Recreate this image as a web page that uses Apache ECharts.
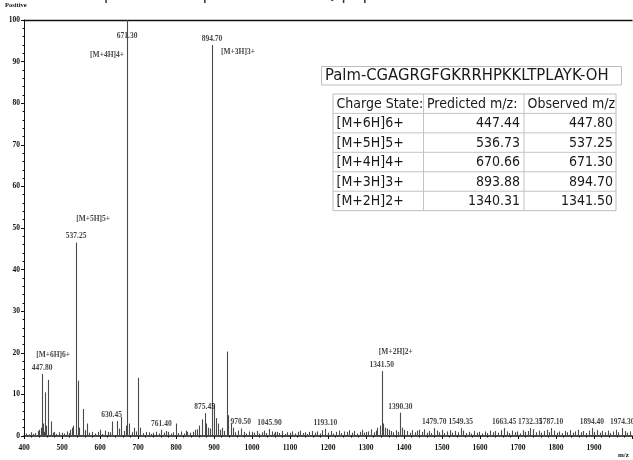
<!DOCTYPE html>
<html>
<head>
<meta charset="utf-8">
<script src="https://cdn.jsdelivr.net/npm/echarts@6/dist/echarts.min.js"></script>
<style>
  html, body { margin: 0; padding: 0; background: #fff; }
  #chart { width: 633px; height: 460px; }
</style>
</head>
<body>
<div id="chart"></div>
<script>
// ---- Spectrum data (m/z, relative abundance %) ----
// Assigned charge-state peaks
const ionMz        = [447.80, 537.25, 671.30, 894.70, 1341.50];
const ionIntensity = [14.9,   46.5,   100,    94,     15.6];
const ionNames     = ['[M+6H]6+', '[M+5H]5+', '[M+4H]4+', '[M+3H]3+', '[M+2H]2+'];

// Other annotated peaks
const annotMz        = [630.45, 761.40, 875.45, 970.50, 1045.90, 1193.10, 1390.30, 1479.70, 1549.35, 1663.45, 1732.35, 1787.10, 1894.40, 1974.30];
const annotIntensity = [3.5,    1.5,    5.5,    1.8,    1.7,     1.7,     5.6,     1.9,     1.9,     1.9,     1.9,     1.9,     1.9,     1.9];

// Unlabelled peaks
const minorPeaks = [
  [440, 1.5], [445, 2.0], [450, 3.0], [455, 10.5], [459, 2.5], [464, 13.5], [470, 3.5], [480, 1.0],
  [500, 0.8], [520, 1.5], [525, 2.0], [530, 2.5], [542, 13.3], [546, 2.0], [555, 6.5], [565, 3.0],
  [580, 1.0], [600, 1.5], [620, 1.0], [645, 3.6], [656, 4.6], [668, 2.5], [676, 3.0], [690, 2.0],
  [700, 14.0], [705, 2.0], [720, 1.0], [740, 0.8], [780, 1.0], [800, 3.0], [830, 1.0], [850, 1.5],
  [860, 2.5], [868, 4.0], [880, 3.0], [885, 2.0], [900, 7.7], [905, 4.3], [910, 3.0], [920, 2.0],
  [933, 20.3], [938, 5.0], [945, 3.0], [950, 2.0], [1000, 1.0], [1060, 1.0], [1100, 0.8], [1150, 1.0],
  [1250, 1.0], [1300, 1.0], [1330, 2.0], [1337, 2.5], [1345, 3.0], [1350, 2.0], [1360, 1.5], [1400, 1.5],
  [1440, 1.5]
];

// Baseline noise
const noisePeaks = [
  [405, 0.6], [412, 0.4], [418, 0.9], [423, 0.5], [430, 0.7], [436, 1.2], [452, 1.0], [476, 0.8],
  [485, 0.5], [492, 0.9], [505, 0.6], [512, 1.1], [518, 0.7], [560, 1.4], [571, 0.8], [588, 0.6],
  [594, 1.0], [606, 0.5], [612, 1.3], [625, 0.9], [650, 1.8], [662, 1.2], [683, 0.9], [695, 1.1],
  [712, 0.7], [728, 0.9], [735, 0.5], [748, 1.0], [755, 0.6], [768, 0.8], [774, 1.2], [786, 0.6],
  [793, 0.9], [806, 0.7], [812, 1.1], [820, 0.6], [826, 1.3], [838, 0.8], [845, 1.0], [856, 1.6],
  [890, 1.8], [915, 1.5], [925, 1.2], [956, 0.9], [962, 1.3], [978, 1.0], [985, 0.6], [992, 1.1],
  [1006, 0.8], [1012, 1.2], [1018, 0.6], [1025, 0.9], [1032, 1.3], [1038, 0.7], [1052, 1.1], [1058, 0.6],
  [1066, 1.0], [1072, 0.7], [1079, 1.2], [1086, 0.5], [1092, 0.9], [1106, 1.1], [1113, 0.6], [1120, 1.0],
  [1126, 1.3], [1133, 0.7], [1140, 0.9], [1146, 0.5], [1158, 1.2], [1165, 0.8], [1171, 1.1], [1178, 0.6],
  [1185, 1.4], [1200, 0.8], [1207, 1.2], [1214, 0.6], [1221, 1.0], [1228, 1.3], [1235, 0.7], [1242, 1.1],
  [1256, 1.4], [1262, 0.8], [1269, 1.2], [1276, 0.6], [1283, 1.0], [1290, 1.5], [1296, 0.8], [1306, 1.1],
  [1313, 1.6], [1320, 0.9], [1326, 1.3], [1355, 1.8], [1366, 1.2], [1372, 0.9], [1378, 1.4], [1384, 1.0],
  [1396, 2.0], [1408, 1.2], [1415, 0.8], [1422, 1.4], [1428, 0.9], [1435, 1.3], [1447, 1.0], [1453, 1.6],
  [1460, 0.8], [1466, 1.2], [1472, 0.7], [1486, 1.3], [1492, 0.9], [1499, 1.5], [1506, 0.7], [1513, 1.1],
  [1520, 1.4], [1527, 0.8], [1534, 1.2], [1541, 0.9], [1556, 1.3], [1563, 0.7], [1570, 1.0], [1577, 0.6],
  [1584, 1.2], [1591, 0.8], [1598, 1.0], [1605, 0.6], [1612, 1.1], [1619, 0.7], [1626, 1.3], [1633, 0.9],
  [1640, 1.2], [1647, 0.8], [1655, 1.4], [1670, 1.1], [1677, 0.7], [1684, 1.3], [1691, 0.9], [1698, 1.1],
  [1705, 0.6], [1712, 1.4], [1719, 1.0], [1726, 1.2], [1740, 1.6], [1747, 0.9], [1754, 1.3], [1761, 0.8],
  [1768, 1.2], [1775, 1.5], [1781, 0.9], [1795, 1.3], [1802, 0.8], [1809, 1.1], [1816, 0.7], [1823, 1.2],
  [1830, 0.9], [1837, 1.4], [1844, 0.8], [1851, 1.1], [1858, 1.5], [1865, 0.9], [1872, 1.2], [1879, 0.7],
  [1886, 1.3], [1901, 1.0], [1908, 1.4], [1915, 0.8], [1922, 1.2], [1929, 0.9], [1936, 1.3], [1943, 0.7],
  [1950, 1.1], [1957, 1.5], [1964, 0.9], [1981, 1.2], [1988, 0.8], [1995, 1.1]
];

// ---- Inset table ----
const peptideName    = 'Palm-CGAGRGFGKRRHPKKLTPLAYK-OH';
const tableHeader    = ['Charge State:', 'Predicted m/z:', 'Observed m/z'];
const chargeStates   = ['[M+6H]6+', '[M+5H]5+', '[M+4H]4+', '[M+3H]3+', '[M+2H]2+'];
const predictedMz    = ['447.44', '536.73', '670.66', '893.88', '1340.31'];
const observedMz     = ['447.80', '537.25', '671.30', '894.70', '1341.50'];

// ---- Styling ----
const tinyFont = 'Liberation Serif';
const ink = '#111';
const stickColor = '#4a4a4a';

// label placement for the assigned peaks (pixel offsets from the peak tip)
const mzLabelOffset  = [[0, 0], [0, 0], [0, 22], [0, 0], [0, 0]];
const ionLabelOffset = [[11, -13], [17, -17], [-20, 41], [26, 13], [14, -13]];

const allSticks = []
  .concat(noisePeaks)
  .concat(minorPeaks)
  .concat(annotMz.map((m, i) => [m, annotIntensity[i]]))
  .concat(ionMz.map((m, i) => [m, ionIntensity[i]]));

function stick(params, api) {
  const tip = api.coord([api.value(0), api.value(1)]);
  const base = api.coord([api.value(0), 0]);
  const x = Math.round(tip[0]) + 0.5;
  return {
    type: 'line',
    shape: { x1: x, y1: tip[1], x2: x, y2: base[1] },
    style: { stroke: stickColor, lineWidth: 1.1 }
  };
}

const tinyLabel = { fontFamily: tinyFont, fontSize: 7.5, color: ink, fontWeight: 'bold' };

// ---- Table graphics ----
const tbl = { x: [333, 423.5, 524, 616], top: 94, headH: 19.4, rowH: 19.46 };
const tableFont = '14px "DejaVu Sans Condensed", "DejaVu Sans", sans-serif';
const graphics = [];

// peptide name box
graphics.push({
  type: 'rect', shape: { x: 321.5, y: 66.5, width: 300, height: 18.5 },
  style: { fill: '#fff', stroke: '#bdbdbd', lineWidth: 1 }, z: 10
});
graphics.push({
  type: 'text', x: 325, y: 76, z: 11,
  style: { text: peptideName, font: '16.5px "DejaVu Sans Condensed", "DejaVu Sans", sans-serif',
           fill: '#1a1a1a', verticalAlign: 'middle', textAlign: 'left' }
});

const nRows = chargeStates.length;
const tblBottom = tbl.top + tbl.headH + nRows * tbl.rowH;
graphics.push({
  type: 'rect', shape: { x: tbl.x[0], y: tbl.top, width: tbl.x[3] - tbl.x[0], height: tblBottom - tbl.top },
  style: { fill: '#fff', stroke: '#bdbdbd', lineWidth: 1 }, z: 10
});
// column rules
[1, 2].forEach(c => graphics.push({
  type: 'line', z: 11,
  shape: { x1: tbl.x[c], y1: tbl.top, x2: tbl.x[c], y2: tblBottom },
  style: { stroke: '#c4c4c4', lineWidth: 1 }
}));
// row rules
for (let r = 0; r < nRows; r++) {
  const y = tbl.top + tbl.headH + r * tbl.rowH;
  graphics.push({
    type: 'line', z: 11,
    shape: { x1: tbl.x[0], y1: y, x2: tbl.x[3], y2: y },
    style: { stroke: '#c4c4c4', lineWidth: 1 }
  });
}
// header
tableHeader.forEach((h, c) => graphics.push({
  type: 'text', z: 12, x: tbl.x[c] + 3.5, y: tbl.top + tbl.headH / 2 + 0.5,
  style: { text: h, font: tableFont, fill: '#1a1a1a', verticalAlign: 'middle', textAlign: 'left' }
}));
// body
for (let r = 0; r < nRows; r++) {
  const cy = tbl.top + tbl.headH + r * tbl.rowH + tbl.rowH / 2 + 0.5;
  graphics.push({ type: 'text', z: 12, x: tbl.x[0] + 3.5, y: cy,
    style: { text: chargeStates[r], font: tableFont, fill: '#1a1a1a', verticalAlign: 'middle', textAlign: 'left' } });
  graphics.push({ type: 'text', z: 12, x: tbl.x[2] - 4, y: cy,
    style: { text: predictedMz[r], font: tableFont, fill: '#1a1a1a', verticalAlign: 'middle', textAlign: 'right' } });
  graphics.push({ type: 'text', z: 12, x: tbl.x[3] - 3, y: cy,
    style: { text: observedMz[r], font: tableFont, fill: '#1a1a1a', verticalAlign: 'middle', textAlign: 'right' } });
}

// page heading, mostly above the top edge
graphics.push({
  type: 'text', x: 62, y: -14, z: 5,
  style: { text: 'MS Spectrum of palm-CNLLZ EQ peptide', font: '17px "DejaVu Sans", sans-serif',
           fill: '#3a3a3a', textAlign: 'left', verticalAlign: 'top' }
});
// axis captions
graphics.push({ type: 'text', x: 5, y: 2, z: 5,
  style: { text: 'Positive', font: 'bold 6.5px "Liberation Serif"', fill: ink, verticalAlign: 'top' } });
graphics.push({ type: 'text', x: 618, y: 452, z: 5,
  style: { text: 'm/z', font: 'bold 7px "Liberation Serif"', fill: ink, verticalAlign: 'top' } });

const option = {
  animation: false,
  backgroundColor: '#fff',
  grid: { left: 24, right: 1, top: 20, bottom: 24, containLabel: false },
  xAxis: [{
    type: 'value', min: 400, max: 2000, interval: 100,
    axisLine: { lineStyle: { color: ink, width: 1.6 } },
    axisTick: { length: 3, lineStyle: { color: ink } },
    minorTick: { show: true, splitNumber: 5, length: 1.5, lineStyle: { color: ink } },
    axisLabel: Object.assign({ margin: 8, showMaxLabel: false, formatter: v => String(v) }, tinyLabel),
    splitLine: { show: false }
  }, {
    type: 'value', position: 'top', min: 400, max: 2000,
    axisLine: { show: true, lineStyle: { color: ink, width: 1.4 } },
    axisTick: { show: false }, axisLabel: { show: false }, splitLine: { show: false }
  }],
  yAxis: {
    type: 'value', min: 0, max: 100, interval: 10,
    axisLine: { show: true, lineStyle: { color: ink, width: 1 } },
    axisTick: { show: true, length: 3, lineStyle: { color: ink } },
    minorTick: { show: true, splitNumber: 5, length: 1.5, lineStyle: { color: ink } },
    axisLabel: Object.assign({ margin: 4 }, tinyLabel),
    splitLine: { show: false }
  },
  graphic: graphics,
  series: [{
    type: 'custom', name: 'spectrum', renderItem: stick,
    data: allSticks, clip: true, z: 2
  }, {
    type: 'scatter', name: 'mz labels', symbolSize: 0, z: 3,
    data: annotMz.map((m, i) => ({ value: [m, annotIntensity[i]] }))
      .concat(ionMz.map((m, i) => ({ value: [m, ionIntensity[i]], label: { offset: mzLabelOffset[i] } }))),
    label: Object.assign({ show: true, position: 'top', distance: 2,
      formatter: p => p.value[0].toFixed(2) }, tinyLabel)
  }, {
    type: 'scatter', name: 'ion labels', symbolSize: 0, z: 3,
    data: ionMz.map((m, i) => ({ value: [m, ionIntensity[i]], name: ionNames[i], label: { offset: ionLabelOffset[i] } })),
    label: Object.assign({ show: true, position: 'top', distance: 2, formatter: p => p.name }, tinyLabel)
  }]
};

const chart = echarts.init(document.getElementById('chart'), null, { renderer: 'canvas' });
chart.setOption(option);
</script>
</body>
</html>
